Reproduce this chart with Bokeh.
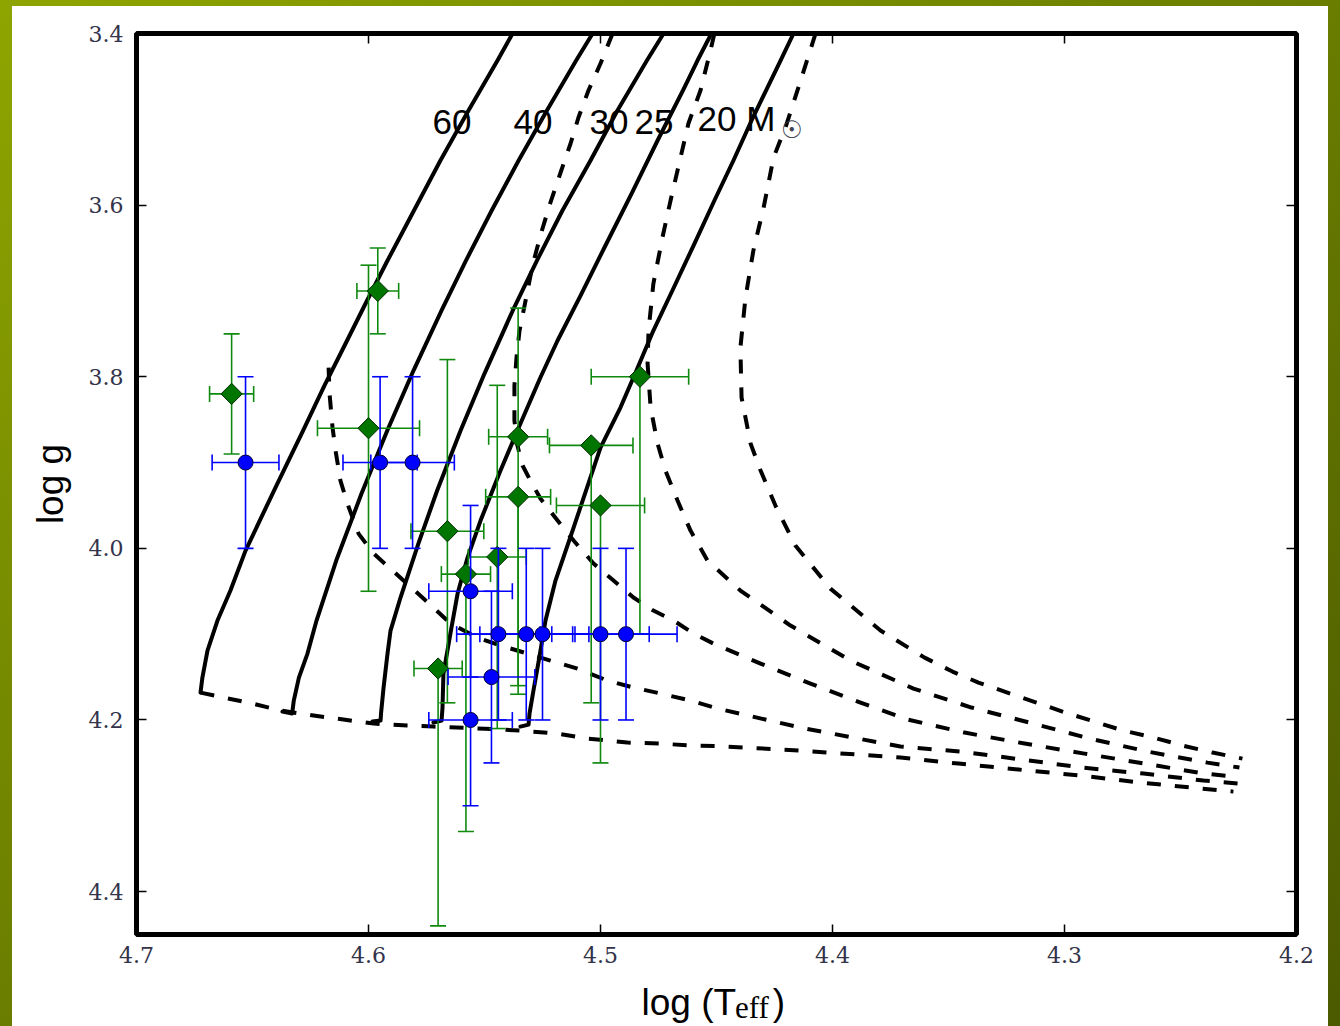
import numpy as np
from bokeh.plotting import figure
from bokeh.models import (Range1d, FixedTicker, PrintfTickFormatter, LinearAxis,
                          Spacer, CustomJSTickFormatter)
from bokeh.layouts import column, row
from bokeh.core.properties import value
from bokeh.embed import file_html
from bokeh.resources import INLINE

# ---------------- data: evolutionary tracks (log Teff, log g) ----------------
track_labels = ["60", "40", "30", "25", "20 M"]
track_60_teff = [4.5379, 4.5444, 4.5569, 4.5690, 4.5804, 4.5918, 4.6017, 4.6103, 4.6190, 4.6282, 4.6401, 4.6530, 4.6595, 4.6651, 4.6694, 4.6716, 4.6724]
track_60_logg = [3.400, 3.4315, 3.4897, 3.548, 3.6063, 3.6646, 3.717, 3.7636, 3.8103, 3.8627, 3.9291, 4.0026, 4.0492, 4.0841, 4.1191, 4.1506, 4.1681]
track_40_teff = [4.5034, 4.5105, 4.5231, 4.5353, 4.5469, 4.5580, 4.5685, 4.5806, 4.5919, 4.6030, 4.6139, 4.6224, 4.6263, 4.6300, 4.6322, 4.6329, 4.6371]
track_40_logg = [3.400, 3.4315, 3.4897, 3.548, 3.6063, 3.6646, 3.7228, 3.7928, 3.8627, 3.9361, 4.0142, 4.0841, 4.1226, 4.1506, 4.1774, 4.1925, 4.1902]
track_30_teff = [4.4728, 4.4800, 4.4927, 4.5043, 4.5164, 4.5274, 4.5378, 4.5500, 4.5603, 4.5704, 4.5785, 4.5862, 4.5905, 4.5918, 4.5935, 4.5946, 4.5948, 4.5983]
track_30_logg = [3.400, 3.4315, 3.4897, 3.548, 3.6063, 3.6646, 3.7228, 3.7963, 3.8627, 3.9326, 3.9944, 4.0573, 4.0958, 4.1226, 4.1622, 4.1925, 4.2007, 4.2019]
track_25_teff = [4.4522, 4.4582, 4.4638, 4.4754, 4.4866, 4.4983, 4.5086, 4.5185, 4.5259, 4.5345, 4.5431, 4.5517, 4.5573, 4.5616, 4.5647, 4.5677, 4.5681, 4.5685, 4.5720]
track_25_logg = [3.400, 3.4315, 3.4629, 3.5247, 3.5865, 3.6494, 3.7054, 3.7578, 3.8009, 3.8545, 3.9093, 3.9676, 4.0107, 4.0527, 4.0993, 4.1459, 4.1855, 4.2007, 4.2030]
track_20_teff = [4.4168, 4.4224, 4.4345, 4.4427, 4.4509, 4.4599, 4.4690, 4.4772, 4.4845, 4.4914, 4.5000, 4.5116, 4.5194, 4.5237, 4.5263, 4.5289, 4.5306, 4.5310, 4.5345]
track_20_logg = [3.400, 3.4315, 3.4991, 3.548, 3.5946, 3.6471, 3.6995, 3.7462, 3.7928, 3.8359, 3.8825, 3.9758, 4.0375, 4.0841, 4.1261, 4.1657, 4.1925, 4.2054, 4.2077]

# ---------------- data: isochrones (dashed) ----------------
iso_1_teff = [4.6724, 4.6625, 4.6500, 4.6379, 4.6237, 4.6108, 4.5978, 4.5832, 4.5720, 4.5560, 4.5345, 4.5185, 4.5056, 4.4884, 4.4741, 4.4612, 4.4496, 4.4138, 4.3707, 4.3457, 4.3198, 4.2931, 4.2672, 4.2405, 4.2272]
iso_1_logg = [4.1681, 4.1739, 4.1809, 4.1890, 4.1949, 4.1995, 4.2042, 4.2065, 4.2077, 4.2094, 4.2124, 4.2159, 4.2217, 4.2263, 4.2275, 4.2298, 4.2304, 4.2357, 4.2438, 4.2508, 4.2578, 4.2648, 4.2730, 4.2800, 4.2835]
iso_2_teff = [4.6172, 4.6168, 4.6155, 4.6142, 4.6121, 4.6091, 4.6043, 4.5978, 4.5892, 4.5806, 4.5720, 4.5647, 4.5530, 4.5431, 4.5315, 4.5216, 4.5099, 4.4970, 4.4858, 4.4741, 4.4612, 4.4496, 4.4138, 4.3707, 4.3448, 4.3181, 4.2922, 4.2659, 4.2401, 4.2254]
iso_2_logg = [3.7893, 3.8196, 3.8592, 3.8860, 3.9210, 3.9478, 3.9828, 4.0061, 4.0270, 4.0480, 4.0690, 4.0876, 4.1040, 4.1133, 4.1226, 4.1308, 4.1401, 4.1541, 4.1622, 4.1692, 4.1774, 4.1867, 4.2089, 4.2310, 4.2368, 4.2462, 4.2555, 4.2625, 4.2706, 4.2741]
iso_3_teff = [4.4948, 4.5000, 4.5052, 4.5095, 4.5129, 4.5172, 4.5220, 4.5259, 4.5293, 4.5323, 4.5349, 4.5362, 4.5371, 4.5371, 4.5358, 4.5336, 4.5302, 4.5259, 4.5185, 4.5116, 4.5030, 4.4944, 4.4858, 4.4772, 4.4685, 4.4599, 4.4513, 4.4310, 4.4095, 4.3879, 4.3677, 4.3431, 4.3172, 4.2914, 4.2655, 4.2397, 4.2267]
iso_3_logg = [3.400, 3.435, 3.4664, 3.4979, 3.5282, 3.562, 3.6005, 3.6354, 3.6704, 3.7112, 3.7462, 3.7776, 3.8103, 3.851, 3.8802, 3.9035, 3.921, 3.942, 3.9676, 3.9909, 4.0177, 4.0375, 4.0573, 4.0725, 4.0841, 4.0993, 4.111, 4.1343, 4.1576, 4.1797, 4.1995, 4.2147, 4.2275, 4.2392, 4.2508, 4.2625, 4.266]
iso_4_teff = [4.4509, 4.4526, 4.4569, 4.4621, 4.4655, 4.4698, 4.4733, 4.4772, 4.4793, 4.4797, 4.4784, 4.4754, 4.4720, 4.4668, 4.4612, 4.4539, 4.4397, 4.4181, 4.3922, 4.3651, 4.3401, 4.3151, 4.2892, 4.2642, 4.2384, 4.2246]
iso_4_logg = [3.400, 3.4198, 3.4664, 3.5049, 3.5445, 3.5946, 3.6378, 3.6914, 3.7462, 3.7846, 3.8359, 3.8779, 3.9093, 3.9443, 3.9793, 4.0142, 4.0492, 4.0900, 4.1308, 4.1634, 4.1855, 4.2030, 4.2217, 4.2368, 4.2497, 4.2555]
iso_5_teff = [4.4073, 4.4151, 4.4203, 4.4254, 4.4297, 4.4341, 4.4375, 4.4397, 4.4392, 4.4353, 4.4310, 4.4246, 4.4160, 4.4009, 4.3793, 4.3603, 4.3483, 4.3371, 4.3246, 4.3121, 4.2996, 4.2871, 4.2746, 4.2616, 4.2491, 4.2362, 4.2233]
iso_5_logg = [3.400, 3.4664, 3.5096, 3.5445, 3.6028, 3.6529, 3.7077, 3.766, 3.8242, 3.8779, 3.9093, 3.9501, 3.9967, 4.0469, 4.0958, 4.1273, 4.1436, 4.1564, 4.1681, 4.1797, 4.1914, 4.2019, 4.2124, 4.2205, 4.2298, 4.238, 4.245]

# ---------------- data: stars ----------------
# green diamonds
green_teff = [4.659, 4.596, 4.600, 4.566, 4.5355, 4.5355, 4.5445, 4.558, 4.483, 4.504, 4.500, 4.570]
green_logg = [3.82, 3.70, 3.86, 3.98, 3.87, 3.94, 4.01, 4.03, 3.80, 3.88, 3.95, 4.14]
green_teff_err = [0.0095, 0.009, 0.022, 0.0157, 0.0127, 0.014, 0.0125, 0.0106, 0.021, 0.018, 0.019, 0.0104]
green_logg_err_minus = [0.07, 0.05, 0.19, 0.20, 0.15, 0.0, 0.20, 0.0, 0.0, 0.0, 0.0, 0.0]
green_logg_err_plus = [0.07, 0.05, 0.19, 0.20, 0.30, 0.22, 0.20, 0.30, 0.30, 0.30, 0.30, 0.30]
# blue circles
blue_teff = [4.653, 4.595, 4.581, 4.556, 4.544, 4.532, 4.525, 4.500, 4.489, 4.547, 4.556]
blue_logg = [3.90, 3.90, 3.90, 4.05, 4.10, 4.10, 4.10, 4.10, 4.10, 4.15, 4.20]
blue_teff_err = [0.0144, 0.016, 0.018, 0.018, 0.018, 0.020, 0.020, 0.021, 0.022, 0.0187, 0.018]
blue_logg_err = [0.10, 0.10, 0.10, 0.10, 0.10, 0.10, 0.10, 0.10, 0.10, 0.10, 0.10]

x_ticks = [4.7, 4.6, 4.5, 4.4, 4.3, 4.2]
y_ticks = [3.4, 3.6, 3.8, 4.0, 4.2, 4.4]

# ---------------- main figure ----------------
p = figure(width=1316, height=972, x_range=Range1d(4.7, 4.2), y_range=Range1d(4.45, 3.4),
           output_backend="svg", toolbar_location=None,
           min_border_left=124, min_border_right=32, min_border_top=27, min_border_bottom=44,
           background_fill_color="white", border_fill_color="white")
p.grid.visible = False
p.outline_line_color = "black"
p.outline_line_width = 5

TICK_FONT = "DejaVu Serif"
for ax in (p.xaxis[0], p.yaxis[0]):
    ax.axis_line_color = None
    ax.major_tick_in = 10
    ax.major_tick_out = 0
    ax.major_tick_line_width = 1.5
    ax.minor_tick_line_color = None
    ax.major_label_text_font = TICK_FONT
    ax.major_label_text_font_size = "22px"
    ax.major_label_text_color = "#33334a"
    ax.formatter = PrintfTickFormatter(format="%.1f")
p.xaxis[0].ticker = FixedTicker(ticks=x_ticks)
p.yaxis[0].ticker = FixedTicker(ticks=y_ticks)
p.xaxis[0].major_label_standoff = 12
p.yaxis[0].major_label_standoff = 13
p.yaxis[0].axis_label = "log g"
p.yaxis[0].axis_label_text_font = "Liberation Sans"
p.yaxis[0].axis_label_text_font_size = "37px"
p.yaxis[0].axis_label_text_font_style = "normal"
p.yaxis[0].axis_label_text_color = "black"
p.yaxis[0].axis_label_standoff = 15

for loc, tick in (("above", x_ticks), ("right", y_ticks)):
    ax = LinearAxis(ticker=FixedTicker(ticks=tick), formatter=CustomJSTickFormatter(code="return ''"))
    ax.axis_line_color = None
    ax.major_tick_in = 10
    ax.major_tick_out = 0
    ax.major_tick_line_width = 1.5
    ax.minor_tick_line_color = None
    ax.major_label_text_font_size = "1px"
    ax.major_label_standoff = 0
    p.add_layout(ax, loc)

# isochrones (dashed)
for tx, ty in ((iso_1_teff, iso_1_logg), (iso_2_teff, iso_2_logg), (iso_3_teff, iso_3_logg),
               (iso_4_teff, iso_4_logg), (iso_5_teff, iso_5_logg)):
    p.line(tx, ty, line_color="black", line_width=4, line_dash="14 14", line_join="round")

# tracks (solid)
for tx, ty in ((track_60_teff, track_60_logg), (track_40_teff, track_40_logg), (track_30_teff, track_30_logg),
               (track_25_teff, track_25_logg), (track_20_teff, track_20_logg)):
    p.line(tx, ty, line_color="black", line_width=4, line_join="round", line_cap="round")

# track labels
label_x = [4.5724, 4.5375, 4.5047, 4.4853, 4.4582]
label_y = [3.5037, 3.5037, 3.5037, 3.5037, 3.4990]
p.text(x=label_x, y=label_y, text=track_labels, text_font=value("Liberation Sans"),
       text_font_size="35px", text_color="black", text_baseline="alphabetic", text_align="left")
p.text(x=[4.4222], y=[3.5125], text=["\u2609"], text_font=value("DejaVu Sans"),
       text_font_size="24px", text_color="#445", text_baseline="alphabetic", text_align="left")


def errorbars(x, y, xerr, yerr_minus, yerr_plus, color):
    x = np.asarray(x); y = np.asarray(y)
    xerr = np.asarray(xerr); ym = np.asarray(yerr_minus); yp = np.asarray(yerr_plus)
    p.segment(x - xerr, y, x + xerr, y, line_color=color, line_width=1.6)
    p.segment(x, y - ym, x, y + yp, line_color=color, line_width=1.6)
    capx = np.concatenate([x - xerr, x + xerr])
    capy = np.concatenate([y, y])
    p.scatter(capx, capy, marker="dash", size=16, angle=np.pi / 2, line_color=color, line_width=1.6)
    m = ym > 0
    pl = yp > 0
    p.scatter(np.concatenate([x[m], x[pl]]), np.concatenate([(y - ym)[m], (y + yp)[pl]]),
              marker="dash", size=16, line_color=color, line_width=1.6)


errorbars(green_teff, green_logg, green_teff_err, green_logg_err_minus, green_logg_err_plus, "#0f8a0f")
p.scatter(green_teff, green_logg, marker="square", angle=np.pi / 4, size=15,
          fill_color="#007500", line_color="#002a00", line_width=1)

errorbars(blue_teff, blue_logg, blue_teff_err, blue_logg_err, blue_logg_err, "#0000ff")
p.scatter(blue_teff, blue_logg, marker="circle", size=15,
          fill_color="#0000ff", line_color="#000033", line_width=1)

# ---------------- x-axis title strip: log (T_eff) ----------------
q = figure(width=1316, height=48, x_range=p.x_range, y_range=Range1d(48, 0),
           output_backend="svg", toolbar_location=None, x_axis_location=None, y_axis_location=None,
           min_border_left=124, min_border_right=32, min_border_top=0, min_border_bottom=0,
           background_fill_color="white", border_fill_color="white")
q.grid.visible = False
q.outline_line_color = None
q.text(x=[4.4823], y=[24], text=["log (T"], text_font=value("Liberation Sans"), text_font_size="37px",
       text_color="black", text_baseline="alphabetic", text_align="left")
q.text(x=[4.4420], y=[29], text=["eff"], text_font=value("Liberation Serif"), text_font_size="31px",
       text_color="black", text_baseline="alphabetic", text_align="left")
q.text(x=[4.4258], y=[24], text=[")"], text_font=value("Liberation Sans"), text_font_size="37px",
       text_color="black", text_baseline="alphabetic", text_align="left")

white_block = column(p, q, styles={"background": "white"})
inner = row(Spacer(width=12, height=1020), white_block, Spacer(width=12, height=1020))
layout = column(Spacer(width=1340, height=6), inner,
                styles={"background": "linear-gradient(to bottom right, #8ea500 0%, #6a7d00 50%, #4c5a00 100%)"})

open("out.html", "w").write(file_html(layout, INLINE))
